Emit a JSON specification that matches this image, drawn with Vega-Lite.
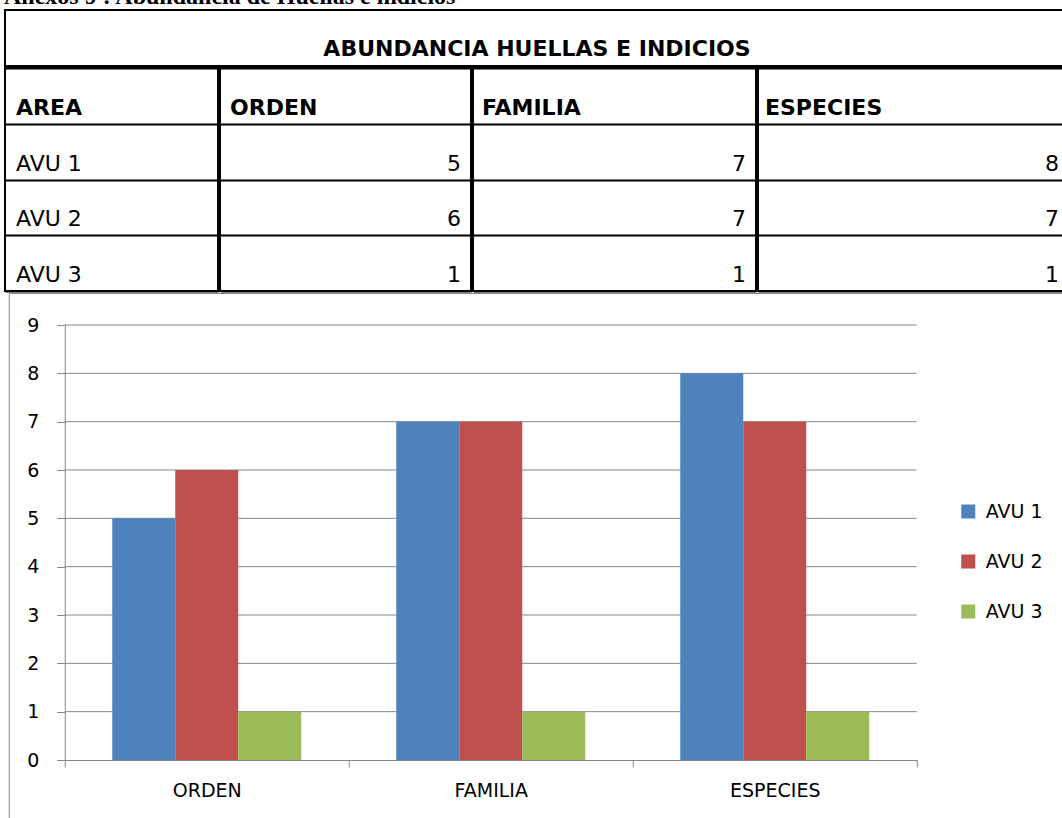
{
  "$schema": "https://vega.github.io/schema/vega-lite/v6.json",
  "padding": {"left": 4, "top": -15, "right": 0, "bottom": 0},
  "title": {"text": "Anexos 9 : Abundancia de Huellas e indicios", "anchor": "start", "font": "Liberation Serif", "fontSize": 24, "fontWeight": "bold", "color": "black", "offset": 0},
  "config": {"view": {"stroke": null}, "font": "DejaVu Sans", "concat": {"spacing": 0}},
  "datasets": {
    "t": [
      {"area": "AVU 1", "ORDEN": 5, "FAMILIA": 7, "ESPECIES": 8},
      {"area": "AVU 2", "ORDEN": 6, "FAMILIA": 7, "ESPECIES": 7},
      {"area": "AVU 3", "ORDEN": 1, "FAMILIA": 1, "ESPECIES": 1}
    ],
    "headers": [{"col": "AREA"}, {"col": "ORDEN"}, {"col": "FAMILIA"}, {"col": "ESPECIES"}],
    "title": [{"label": "ABUNDANCIA HUELLAS E INDICIOS"}],
    "grid": [{"v": 1}, {"v": 2}, {"v": 3}, {"v": 4}, {"v": 5}, {"v": 6}, {"v": 7}, {"v": 8}, {"v": 9}]
  },
  "spacing": 0,
  "center": true,
  "resolve": {"scale": {"color": "independent"}, "legend": {"color": "independent"}},
  "vconcat": [
    {
      "width": 1064, "height": 56,
      "view": {"stroke": "black", "strokeWidth": 2},
      "data": {"name": "title"},
      "mark": {"type": "text", "fontWeight": "bold", "fontSize": 22, "baseline": "alphabetic", "dy": -10, "color": "black"},
      "encoding": {
        "y": {"datum": "t", "type": "nominal", "bandPosition": 1, "scale": {"type": "band", "paddingInner": 0, "paddingOuter": 0}, "axis": null},
        "text": {"field": "label"}
      }
    },
    {
      "spacing": 0,
      "hconcat": [
        {
          "width": 213, "height": 223,
          "view": {"stroke": "black", "strokeWidth": 2},
          "layer": [
            {
              "data": {"name": "t"},
              "mark": {"type": "text", "align": "left", "baseline": "alphabetic", "dx": 11, "dy": -9, "fontSize": 22, "color": "black"},
              "encoding": {
                "x": {"datum": 0, "type": "quantitative", "scale": {"domain": [0, 1]}, "axis": null},
                "y": {"field": "area", "type": "nominal", "bandPosition": 1, "scale": {"type": "band", "domain": ["hdr", "AVU 1", "AVU 2", "AVU 3"], "paddingInner": 0, "paddingOuter": 0},
                  "axis": {"orient": "left", "grid": true, "gridColor": "black", "gridWidth": 2, "gridOpacity": 1, "tickBand": "extent", "labels": false, "ticks": false, "domain": false, "title": null, "minExtent": 0}},
                "text": {"field": "area"}
              }
            },
            {
              "data": {"name": "headers"},
              "transform": [{"filter": "datum.col === 'AREA'"}],
              "mark": {"type": "text", "align": "left", "baseline": "alphabetic", "dx": 11, "dy": -9, "fontSize": 22, "fontWeight": "bold", "color": "black"},
              "encoding": {
                "x": {"datum": 0, "type": "quantitative"},
                "y": {"datum": "hdr", "type": "nominal", "bandPosition": 1},
                "text": {"field": "col"}
              }
            }
          ]
        },
        {
          "width": 251, "height": 223,
          "view": {"stroke": "black", "strokeWidth": 2},
          "layer": [
            {
              "data": {"name": "t"},
              "mark": {"type": "text", "align": "right", "baseline": "alphabetic", "dx": -10, "dy": -9, "fontSize": 22, "color": "black"},
              "encoding": {
                "x": {"datum": 1, "type": "quantitative", "scale": {"domain": [0, 1]}, "axis": null},
                "y": {"field": "area", "type": "nominal", "bandPosition": 1, "scale": {"type": "band", "domain": ["hdr", "AVU 1", "AVU 2", "AVU 3"], "paddingInner": 0, "paddingOuter": 0},
                  "axis": {"orient": "left", "grid": true, "gridColor": "black", "gridWidth": 2, "gridOpacity": 1, "tickBand": "extent", "labels": false, "ticks": false, "domain": false, "title": null, "minExtent": 0}},
                "text": {"field": "ORDEN", "type": "quantitative"}
              }
            },
            {
              "data": {"name": "headers"},
              "transform": [{"filter": "datum.col === 'ORDEN'"}],
              "mark": {"type": "text", "align": "left", "baseline": "alphabetic", "dx": 10, "dy": -9, "fontSize": 22, "fontWeight": "bold", "color": "black"},
              "encoding": {
                "x": {"datum": 0, "type": "quantitative"},
                "y": {"datum": "hdr", "type": "nominal", "bandPosition": 1},
                "text": {"field": "col"}
              }
            }
          ]
        },
        {
          "width": 283, "height": 223,
          "view": {"stroke": "black", "strokeWidth": 2},
          "layer": [
            {
              "data": {"name": "t"},
              "mark": {"type": "text", "align": "right", "baseline": "alphabetic", "dx": -10, "dy": -9, "fontSize": 22, "color": "black"},
              "encoding": {
                "x": {"datum": 1, "type": "quantitative", "scale": {"domain": [0, 1]}, "axis": null},
                "y": {"field": "area", "type": "nominal", "bandPosition": 1, "scale": {"type": "band", "domain": ["hdr", "AVU 1", "AVU 2", "AVU 3"], "paddingInner": 0, "paddingOuter": 0},
                  "axis": {"orient": "left", "grid": true, "gridColor": "black", "gridWidth": 2, "gridOpacity": 1, "tickBand": "extent", "labels": false, "ticks": false, "domain": false, "title": null, "minExtent": 0}},
                "text": {"field": "FAMILIA", "type": "quantitative"}
              }
            },
            {
              "data": {"name": "headers"},
              "transform": [{"filter": "datum.col === 'FAMILIA'"}],
              "mark": {"type": "text", "align": "left", "baseline": "alphabetic", "dx": 9, "dy": -9, "fontSize": 22, "fontWeight": "bold", "color": "black"},
              "encoding": {
                "x": {"datum": 0, "type": "quantitative"},
                "y": {"datum": "hdr", "type": "nominal", "bandPosition": 1},
                "text": {"field": "col"}
              }
            }
          ]
        },
        {
          "width": 311, "height": 223,
          "view": {"stroke": "black", "strokeWidth": 2},
          "layer": [
            {
              "data": {"name": "t"},
              "mark": {"type": "text", "align": "right", "baseline": "alphabetic", "dx": -10, "dy": -9, "fontSize": 22, "color": "black"},
              "encoding": {
                "x": {"datum": 1, "type": "quantitative", "scale": {"domain": [0, 1]}, "axis": null},
                "y": {"field": "area", "type": "nominal", "bandPosition": 1, "scale": {"type": "band", "domain": ["hdr", "AVU 1", "AVU 2", "AVU 3"], "paddingInner": 0, "paddingOuter": 0},
                  "axis": {"orient": "left", "grid": true, "gridColor": "black", "gridWidth": 2, "gridOpacity": 1, "tickBand": "extent", "labels": false, "ticks": false, "domain": false, "title": null, "minExtent": 0}},
                "text": {"field": "ESPECIES", "type": "quantitative"}
              }
            },
            {
              "data": {"name": "headers"},
              "transform": [{"filter": "datum.col === 'ESPECIES'"}],
              "mark": {"type": "text", "align": "left", "baseline": "alphabetic", "dx": 7, "dy": -9, "fontSize": 22, "fontWeight": "bold", "color": "black"},
              "encoding": {
                "x": {"datum": 0, "type": "quantitative"},
                "y": {"datum": "hdr", "type": "nominal", "bandPosition": 1},
                "text": {"field": "col"}
              }
            }
          ]
        }
      ]
    },
    {
      "width": 1057, "height": 530,
      "view": {"stroke": "#868686", "strokeWidth": 1},
      "layer": [
        {
          "data": {"name": "grid"},
          "mark": {"type": "rule", "color": "#868686", "strokeWidth": 1},
          "encoding": {
            "y": {"field": "v", "type": "quantitative", "scale": {"domain": [0, 9], "range": [467, 32], "nice": false, "zero": true},
              "axis": {"orient": "left", "offset": -56, "grid": false, "values": [0, 1, 2, 3, 4, 5, 6, 7, 8, 9], "format": "d", "domainColor": "#868686", "tickColor": "#868686", "tickSize": 8, "labelPadding": 18, "labelFontSize": 19, "labelColor": "black", "title": null}},
            "x": {"datum": 0, "type": "quantitative", "scale": {"domain": [0, 1], "range": [56, 908]}, "axis": null},
            "x2": {"datum": 1}
          }
        },
        {
          "data": {"name": "t"},
          "transform": [{"fold": ["ORDEN", "FAMILIA", "ESPECIES"], "as": ["cat", "value"]}],
          "mark": {"type": "bar"},
          "encoding": {
            "x": {"field": "cat", "type": "nominal", "sort": ["ORDEN", "FAMILIA", "ESPECIES"], "scale": {"range": [56, 908], "paddingInner": 0, "paddingOuter": 0},
              "axis": {"orient": "bottom", "offset": -63, "tickBand": "extent", "tickSize": 7, "domainColor": "#868686", "tickColor": "#868686", "labelFontSize": 19, "labelPadding": 14, "labelColor": "black", "labelAngle": 0, "title": null}},
            "xOffset": {"field": "area", "type": "nominal", "scale": {"paddingInner": 0, "paddingOuter": 0.754}},
            "y": {"field": "value", "type": "quantitative"},
            "color": {"field": "area", "type": "nominal", "scale": {"range": ["#4F81BD", "#C0504D", "#9BBB59"]},
              "legend": {"orient": "none", "legendX": 950, "legendY": 209, "title": null, "symbolType": "square", "symbolSize": 196, "symbolStrokeWidth": 0, "symbolOpacity": 1, "labelFontSize": 19, "labelOffset": 8, "rowPadding": 30, "labelColor": "black"}}
          }
        }
      ],
      "resolve": {"scale": {"x": "independent"}, "axis": {"x": "independent"}}
    }
  ]
}
